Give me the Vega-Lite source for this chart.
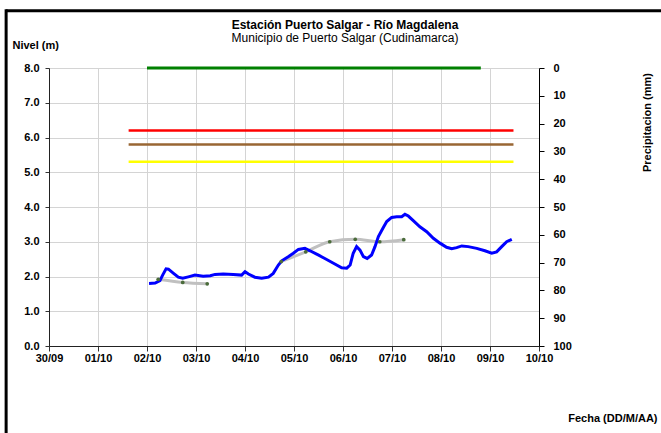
{
  "$schema": "https://vega.github.io/schema/vega-lite/v6.json",
  "width": 490,
  "height": 278,
  "autosize": {"type": "none"},
  "padding": {"left": 49, "top": 68, "right": 122, "bottom": 87},
  "background": "white",
  "config": {
    "font": "Liberation Sans",
    "view": {"stroke": null},
    "axis": {
      "labelFont": "Liberation Sans",
      "labelFontWeight": "bold",
      "labelFontSize": 11,
      "labelColor": "black",
      "titleFont": "Liberation Sans",
      "titleFontWeight": "bold",
      "titleFontSize": 11,
      "titleColor": "black",
      "gridColor": "#d4d4d4",
      "gridWidth": 1,
      "domainColor": "#333333",
      "tickColor": "#333333"
    }
  },
  "title": {
    "text": "Estación Puerto Salgar - Río Magdalena",
    "subtitle": "Municipio de Puerto Salgar (Cudinamarca)",
    "anchor": "middle",
    "frame": "group",
    "dx": 51,
    "dy": 57,
    "offset": 20,
    "font": "Liberation Sans",
    "fontSize": 12,
    "fontWeight": "bold",
    "color": "black",
    "subtitleFont": "Liberation Sans",
    "subtitleFontSize": 12,
    "subtitleColor": "black",
    "subtitlePadding": 1
  },
  "datasets": {
    "nivel": [
      {"fecha": "2010-10-02T01:00", "nivel": 1.80},
      {"fecha": "2010-10-02T04:00", "nivel": 1.81},
      {"fecha": "2010-10-02T06:20", "nivel": 1.88},
      {"fecha": "2010-10-02T07:40", "nivel": 2.04},
      {"fecha": "2010-10-02T09:20", "nivel": 2.22},
      {"fecha": "2010-10-02T10:30", "nivel": 2.21},
      {"fecha": "2010-10-02T13:00", "nivel": 2.09},
      {"fecha": "2010-10-02T15:20", "nivel": 1.98},
      {"fecha": "2010-10-02T17:30", "nivel": 1.95},
      {"fecha": "2010-10-02T20:15", "nivel": 1.99},
      {"fecha": "2010-10-02T23:30", "nivel": 2.04},
      {"fecha": "2010-10-03T03:30", "nivel": 2.01},
      {"fecha": "2010-10-03T07:00", "nivel": 2.02},
      {"fecha": "2010-10-03T09:20", "nivel": 2.06},
      {"fecha": "2010-10-03T13:20", "nivel": 2.07},
      {"fecha": "2010-10-03T18:15", "nivel": 2.06},
      {"fecha": "2010-10-03T22:20", "nivel": 2.04},
      {"fecha": "2010-10-04T00:00", "nivel": 2.14},
      {"fecha": "2010-10-04T01:40", "nivel": 2.07},
      {"fecha": "2010-10-04T04:50", "nivel": 1.98},
      {"fecha": "2010-10-04T08:10", "nivel": 1.95},
      {"fecha": "2010-10-04T11:30", "nivel": 1.98},
      {"fecha": "2010-10-04T13:50", "nivel": 2.09},
      {"fecha": "2010-10-04T16:20", "nivel": 2.33},
      {"fecha": "2010-10-04T18:00", "nivel": 2.45},
      {"fecha": "2010-10-04T21:10", "nivel": 2.57},
      {"fecha": "2010-10-04T23:40", "nivel": 2.67},
      {"fecha": "2010-10-05T02:10", "nivel": 2.78},
      {"fecha": "2010-10-05T05:20", "nivel": 2.81},
      {"fecha": "2010-10-05T07:50", "nivel": 2.74},
      {"fecha": "2010-10-05T11:50", "nivel": 2.62},
      {"fecha": "2010-10-05T16:00", "nivel": 2.49},
      {"fecha": "2010-10-05T20:00", "nivel": 2.36},
      {"fecha": "2010-10-05T23:20", "nivel": 2.25},
      {"fecha": "2010-10-06T01:50", "nivel": 2.24},
      {"fecha": "2010-10-06T03:30", "nivel": 2.33},
      {"fecha": "2010-10-06T05:00", "nivel": 2.67},
      {"fecha": "2010-10-06T06:40", "nivel": 2.86},
      {"fecha": "2010-10-06T08:20", "nivel": 2.76},
      {"fecha": "2010-10-06T10:00", "nivel": 2.57},
      {"fecha": "2010-10-06T11:50", "nivel": 2.52},
      {"fecha": "2010-10-06T14:00", "nivel": 2.62},
      {"fecha": "2010-10-06T15:40", "nivel": 2.86},
      {"fecha": "2010-10-06T17:20", "nivel": 3.15},
      {"fecha": "2010-10-06T19:45", "nivel": 3.41},
      {"fecha": "2010-10-06T21:25", "nivel": 3.58},
      {"fecha": "2010-10-06T23:50", "nivel": 3.70},
      {"fecha": "2010-10-07T02:20", "nivel": 3.72},
      {"fecha": "2010-10-07T04:45", "nivel": 3.72},
      {"fecha": "2010-10-07T06:20", "nivel": 3.79},
      {"fecha": "2010-10-07T08:00", "nivel": 3.74},
      {"fecha": "2010-10-07T10:25", "nivel": 3.61},
      {"fecha": "2010-10-07T13:40", "nivel": 3.43},
      {"fecha": "2010-10-07T17:00", "nivel": 3.29},
      {"fecha": "2010-10-07T20:15", "nivel": 3.10},
      {"fecha": "2010-10-07T23:30", "nivel": 2.96},
      {"fecha": "2010-10-08T02:45", "nivel": 2.84},
      {"fecha": "2010-10-08T05:15", "nivel": 2.80},
      {"fecha": "2010-10-08T07:40", "nivel": 2.83},
      {"fecha": "2010-10-08T10:10", "nivel": 2.88},
      {"fecha": "2010-10-08T13:20", "nivel": 2.86},
      {"fecha": "2010-10-08T17:30", "nivel": 2.81},
      {"fecha": "2010-10-08T21:30", "nivel": 2.74},
      {"fecha": "2010-10-09T00:50", "nivel": 2.67},
      {"fecha": "2010-10-09T03:15", "nivel": 2.71},
      {"fecha": "2010-10-09T05:45", "nivel": 2.86},
      {"fecha": "2010-10-09T08:10", "nivel": 3.00},
      {"fecha": "2010-10-09T10:40", "nivel": 3.07}
    ],
    "tendencia": [
      {"tramo": "A", "fecha": "2010-10-02T05:30", "nivel": 1.92},
      {"tramo": "A", "fecha": "2010-10-02T17:30", "nivel": 1.83},
      {"tramo": "A", "fecha": "2010-10-03T05:30", "nivel": 1.79},
      {"tramo": "B", "fecha": "2010-10-04T17:45", "nivel": 2.43},
      {"tramo": "B", "fecha": "2010-10-05T05:45", "nivel": 2.71},
      {"tramo": "B", "fecha": "2010-10-05T17:30", "nivel": 3.00},
      {"tramo": "B", "fecha": "2010-10-06T06:00", "nivel": 3.07},
      {"tramo": "B", "fecha": "2010-10-06T18:00", "nivel": 3.00},
      {"tramo": "B", "fecha": "2010-10-07T05:45", "nivel": 3.06}
    ],
    "umbrales": [
      {"serie": "Rojo", "fecha": "2010-10-01T15:00", "nivel": 6.2},
      {"serie": "Rojo", "fecha": "2010-10-09T11:30", "nivel": 6.2},
      {"serie": "Naranja", "fecha": "2010-10-01T15:00", "nivel": 5.8},
      {"serie": "Naranja", "fecha": "2010-10-09T11:30", "nivel": 5.8},
      {"serie": "Amarillo", "fecha": "2010-10-01T15:00", "nivel": 5.3},
      {"serie": "Amarillo", "fecha": "2010-10-09T11:30", "nivel": 5.3}
    ],
    "precip": [
      {"fecha": "2010-10-02T00:00", "precip": 0},
      {"fecha": "2010-10-02T12:00", "precip": 0},
      {"fecha": "2010-10-03T00:00", "precip": 0},
      {"fecha": "2010-10-03T12:00", "precip": 0},
      {"fecha": "2010-10-04T00:00", "precip": 0},
      {"fecha": "2010-10-04T12:00", "precip": 0},
      {"fecha": "2010-10-05T00:00", "precip": 0},
      {"fecha": "2010-10-05T12:00", "precip": 0},
      {"fecha": "2010-10-06T00:00", "precip": 0},
      {"fecha": "2010-10-06T12:00", "precip": 0},
      {"fecha": "2010-10-07T00:00", "precip": 0},
      {"fecha": "2010-10-07T12:00", "precip": 0},
      {"fecha": "2010-10-08T00:00", "precip": 0},
      {"fecha": "2010-10-08T12:00", "precip": 0},
      {"fecha": "2010-10-08T19:30", "precip": 0}
    ]
  },
  "layer": [
    {
      "encoding": {
        "x": {
          "field": "fecha",
          "type": "temporal",
          "scale": {"domain": [{"year": 2010, "month": 9, "date": 30}, {"year": 2010, "month": 10, "date": 10}]},
          "axis": {
            "format": "%d/%m",
            "tickCount": {"interval": "day", "step": 1},
            "labelFlush": false,
            "labelOverlap": false,
            "grid": true,
            "tickSize": 5,
            "labelPadding": 1,
            "domainColor": "#222222",
            "title": "Fecha (DD/M/AA)",
            "titleX": 608,
            "titleY": 72,
            "titleAlign": "right",
            "titleBaseline": "middle"
          }
        },
        "y": {
          "field": "nivel",
          "type": "quantitative",
          "scale": {"domain": [0, 8], "nice": false},
          "axis": {
            "values": [0, 1, 2, 3, 4, 5, 6, 7, 8],
            "format": ".1f",
            "grid": true,
            "tickSize": 4,
            "labelPadding": 6,
            "domainColor": "#222222",
            "title": "Nivel (m)",
            "titleAngle": 0,
            "titleX": -37,
            "titleY": -23,
            "titleAlign": "left",
            "titleBaseline": "middle"
          }
        }
      },
      "layer": [
        {
          "data": {"name": "umbrales"},
          "mark": {"type": "line", "strokeWidth": 2.5},
          "encoding": {
            "detail": {"field": "serie"},
            "color": {
              "field": "serie",
              "type": "nominal",
              "scale": {"domain": ["Rojo", "Naranja", "Amarillo"], "range": ["#ff0000", "#996633", "#ffff00"]},
              "legend": null
            }
          }
        },
        {
          "data": {"name": "tendencia"},
          "mark": {"type": "line", "color": "#c0c0c0", "strokeWidth": 3, "interpolate": "monotone"},
          "encoding": {"detail": {"field": "tramo"}}
        },
        {
          "data": {"name": "nivel"},
          "mark": {"type": "line", "color": "#0000ff", "strokeWidth": 3},
          "encoding": {}
        },
        {
          "data": {"name": "tendencia"},
          "mark": {"type": "point", "filled": true, "color": "#4a6b3a", "size": 14, "opacity": 1},
          "encoding": {}
        }
      ]
    },
    {
      "data": {"name": "precip"},
      "mark": {"type": "line", "color": "#008000", "strokeWidth": 3},
      "encoding": {
        "x": {"field": "fecha", "type": "temporal"},
        "y": {
          "field": "precip",
          "type": "quantitative",
          "scale": {"domain": [0, 100], "reverse": true, "nice": false},
          "axis": {
            "orient": "right",
            "values": [0, 10, 20, 30, 40, 50, 60, 70, 80, 90, 100],
            "grid": false,
            "tickSize": 5,
            "labelPadding": 9,
            "domainColor": "#000000",
            "tickColor": "#000000",
            "title": "Precipitacion (mm)",
            "titleAngle": 270,
            "titleX": 108,
            "titleY": 54,
            "titleAlign": "center",
            "titleBaseline": "middle"
          }
        }
      }
    },
    {
      "data": {"values": [{}]},
      "layer": [
        {
          "mark": {"type": "rule", "color": "black", "strokeWidth": 3},
          "encoding": {
            "x": {"datum": {"year": 2010, "month": 9, "date": 29, "hours": 3}, "type": "temporal"},
            "x2": {"datum": {"year": 2010, "month": 10, "date": 13}},
            "y": {"datum": 9.65, "type": "quantitative", "scale": {"domain": [0, 8], "nice": false}, "axis": null}
          }
        },
        {
          "mark": {"type": "rule", "color": "black", "strokeWidth": 3},
          "encoding": {
            "x": {"datum": {"year": 2010, "month": 9, "date": 29, "hours": 3}, "type": "temporal"},
            "y": {"datum": 9.69, "type": "quantitative", "scale": {"domain": [0, 8], "nice": false}, "axis": null},
            "y2": {"datum": -3}
          }
        }
      ]
    }
  ],
  "resolve": {"scale": {"y": "independent"}}
}
